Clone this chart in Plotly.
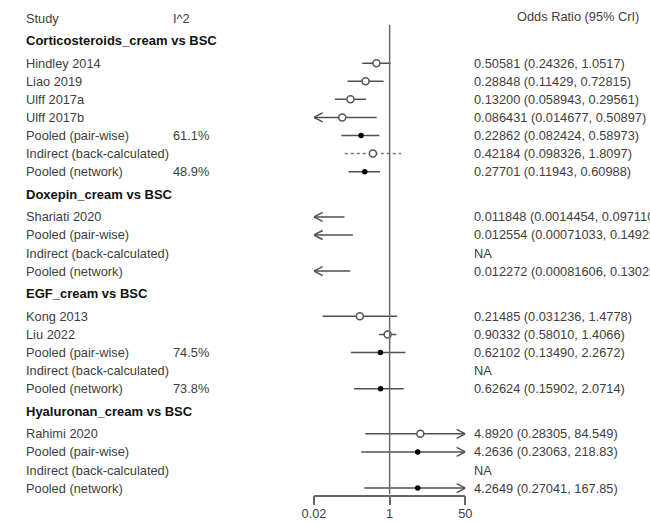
import math
import plotly.graph_objects as go

# ---- data ----------------------------------------------------------------
groups = [
    "Corticosteroids_cream vs BSC",
    "Doxepin_cream vs BSC",
    "EGF_cream vs BSC",
    "Hyaluronan_cream vs BSC",
]

cortico_labels = ["Hindley 2014", "Liao 2019", "Ulff 2017a", "Ulff 2017b",
                  "Pooled (pair-wise)", "Indirect (back-calculated)", "Pooled (network)"]
cortico_or = [0.50581, 0.28848, 0.13200, 0.086431, 0.22862, 0.42184, 0.27701]
cortico_lo = [0.24326, 0.11429, 0.058943, 0.014677, 0.082424, 0.098326, 0.11943]
cortico_hi = [1.0517, 0.72815, 0.29561, 0.50897, 0.58973, 1.8097, 0.60988]
cortico_i2 = ["", "", "", "", "61.1%", "", "48.9%"]

doxepin_labels = ["Shariati 2020", "Pooled (pair-wise)",
                  "Indirect (back-calculated)", "Pooled (network)"]
doxepin_or = [0.011848, 0.012554, None, 0.012272]
doxepin_lo = [0.0014454, 0.00071033, None, 0.00081606]
doxepin_hi = [0.097110, 0.14925, None, 0.13025]
doxepin_i2 = ["", "", "", ""]

egf_labels = ["Kong 2013", "Liu 2022", "Pooled (pair-wise)",
              "Indirect (back-calculated)", "Pooled (network)"]
egf_or = [0.21485, 0.90332, 0.62102, None, 0.62624]
egf_lo = [0.031236, 0.58010, 0.13490, None, 0.15902]
egf_hi = [1.4778, 1.4066, 2.2672, None, 2.0714]
egf_i2 = ["", "", "74.5%", "", "73.8%"]

hyal_labels = ["Rahimi 2020", "Pooled (pair-wise)",
               "Indirect (back-calculated)", "Pooled (network)"]
hyal_or = [4.8920, 4.2636, None, 4.2649]
hyal_lo = [0.28305, 0.23063, None, 0.27041]
hyal_hi = [84.549, 218.83, None, 167.85]
hyal_i2 = ["", "", "", ""]

tick_vals = [0.02, 1, 50]
tick_text = ["0.02", "1", "50"]

# value column text, digits as reported
cortico_txt = ["0.50581 (0.24326, 1.0517)", "0.28848 (0.11429, 0.72815)",
               "0.13200 (0.058943, 0.29561)", "0.086431 (0.014677, 0.50897)",
               "0.22862 (0.082424, 0.58973)", "0.42184 (0.098326, 1.8097)",
               "0.27701 (0.11943, 0.60988)"]
doxepin_txt = ["0.011848 (0.0014454, 0.097110)", "0.012554 (0.00071033, 0.14925)",
               "NA", "0.012272 (0.00081606, 0.13025)"]
egf_txt = ["0.21485 (0.031236, 1.4778)", "0.90332 (0.58010, 1.4066)",
           "0.62102 (0.13490, 2.2672)", "NA", "0.62624 (0.15902, 2.0714)"]
hyal_txt = ["4.8920 (0.28305, 84.549)", "4.2636 (0.23063, 218.83)",
            "NA", "4.2649 (0.27041, 167.85)"]

blocks = [
    (groups[0], cortico_labels, cortico_or, cortico_lo, cortico_hi, cortico_i2, cortico_txt),
    (groups[1], doxepin_labels, doxepin_or, doxepin_lo, doxepin_hi, doxepin_i2, doxepin_txt),
    (groups[2], egf_labels, egf_or, egf_lo, egf_hi, egf_i2, egf_txt),
    (groups[3], hyal_labels, hyal_or, hyal_lo, hyal_hi, hyal_i2, hyal_txt),
]

# ---- layout constants ----------------------------------------------------
W, H = 650, 524
X_MIN, X_MAX = 0.02, 50
PX_ROW = 18.08           # pixels per row unit
TOP_PX = 18              # pixel centre of the column-title row
AXIS_PX = 494.5          # pixel position of the x axis line
PLOT_L, PLOT_R = 311, 467
HEAD_GAP = 1.25

FONT = "Liberation Sans, Arial, sans-serif"
TXT = "#404040"
LINE = "#505050"

# row positions (in row units) built from the block structure
rows = []  # (y, kind, payload)
y = 0.0
for name, labels, ors, los, his, i2s, txts in blocks:
    y += HEAD_GAP
    rows.append((y, "head", name))
    y += HEAD_GAP
    for k, lab in enumerate(labels):
        rows.append((y, "row", (lab, ors[k], los[k], his[k], i2s[k], txts[k])))
        if k < len(labels) - 1:
            y += 1

fig = go.Figure()
ann = []


def paper_x(px):
    return px / W


ann.append(dict(x=paper_x(12), y=0, text="Study", xanchor="left"))
ann.append(dict(x=paper_x(164), y=0, text="I^2", xanchor="left"))
ann.append(dict(x=paper_x(648), y=-0.1, text="Odds Ratio (95% CrI)", xanchor="right"))

lx = math.log10(X_MAX / X_MIN) / (PLOT_R - PLOT_L)   # decades per pixel
arm_dx = 10 ** (9 * lx)
arm_dy = 4.5 / PX_ROW

for yy, kind, payload in rows:
    if kind == "head":
        ann.append(dict(x=paper_x(12), y=yy, text="<b>%s</b>" % payload,
                        xanchor="left", font=dict(size=13, color="#111", family=FONT)))
        continue
    lab, est, lo, hi, i2, txt = payload
    ann.append(dict(x=paper_x(12), y=yy, text=lab, xanchor="left"))
    if i2:
        ann.append(dict(x=paper_x(164), y=yy, text=i2, xanchor="left"))
    ann.append(dict(x=paper_x(474), y=yy, text=txt, xanchor="left"))
    if est is None:
        continue
    indirect = lab.startswith("Indirect")
    pooled = lab.startswith("Pooled")
    x0 = max(lo, X_MIN)
    x1 = min(hi, X_MAX)
    fig.add_trace(go.Scatter(
        x=[x0, x1], y=[yy, yy], mode="lines",
        line=dict(color=LINE if not indirect else "#777", width=1.5,
                  dash="dot" if indirect else "solid"),
        hoverinfo="skip"))
    # arrow heads where the interval runs off the scale
    if lo < X_MIN:
        fig.add_trace(go.Scatter(
            x=[X_MIN * arm_dx, X_MIN, X_MIN * arm_dx],
            y=[yy - arm_dy, yy, yy + arm_dy], mode="lines",
            line=dict(color=LINE, width=1.5), hoverinfo="skip"))
    if hi > X_MAX:
        fig.add_trace(go.Scatter(
            x=[X_MAX / arm_dx, X_MAX, X_MAX / arm_dx],
            y=[yy - arm_dy, yy, yy + arm_dy], mode="lines",
            line=dict(color=LINE, width=1.5), hoverinfo="skip"))
    if X_MIN <= est <= X_MAX:
        if pooled:
            mk = dict(symbol="circle", size=5.5, color="#000")
        else:
            mk = dict(symbol="circle", size=7, color="white",
                      line=dict(color="#555", width=1.5))
        fig.add_trace(go.Scatter(x=[est], y=[yy], mode="markers",
                                 marker=mk, hoverinfo="skip"))

for a in ann:
    a.setdefault("font", dict(size=12.8, color=TXT, family=FONT))
    a.update(xref="paper", yref="y", yanchor="middle", showarrow=False)

y_bottom = (AXIS_PX - TOP_PX) / PX_ROW
y_top = (0 - TOP_PX) / PX_ROW

# reference line at OR = 1
fig.add_shape(type="line", xref="x", yref="y", x0=1, x1=1,
              y0=(25 - TOP_PX) / PX_ROW, y1=y_bottom,
              line=dict(color="#6a6a6a", width=1.5))

fig.update_layout(
    width=W, height=H,
    margin=dict(l=0, r=0, t=0, b=0),
    paper_bgcolor="white", plot_bgcolor="white",
    showlegend=False,
    annotations=ann,
    xaxis=dict(type="log", range=[math.log10(X_MIN), math.log10(X_MAX)],
               domain=[PLOT_L / W, PLOT_R / W],
               showline=True, linecolor="#666", linewidth=1.5,
               ticks="outside", ticklen=9, tickwidth=1.5, tickcolor="#666",
               tickvals=tick_vals, ticktext=tick_text,
               ticklabelstandoff=-3,
               tickfont=dict(size=12.8, color=TXT, family=FONT),
               showgrid=False, zeroline=False, fixedrange=True),
    yaxis=dict(range=[y_bottom, y_top], domain=[(H - AXIS_PX) / H, 1],
               visible=False, showgrid=False, zeroline=False, fixedrange=True),
)

fig.write_html("out.html", config={"displayModeBar": False})
